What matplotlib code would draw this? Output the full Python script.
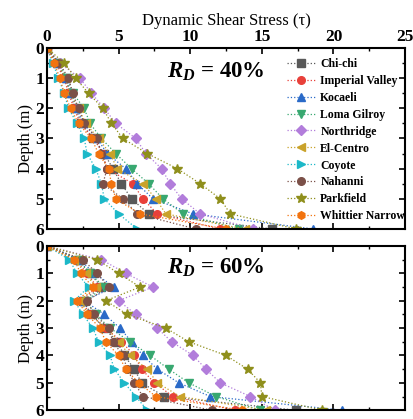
import numpy as np
import matplotlib
matplotlib.use('Agg')
import matplotlib.pyplot as plt
from matplotlib.ticker import MultipleLocator

plt.rcParams['font.family'] = ['Liberation Serif', 'DejaVu Serif']
plt.rcParams['mathtext.fontset'] = 'custom'
plt.rcParams['mathtext.bfit'] = 'Liberation Serif:bold:italic'
plt.rcParams['mathtext.it'] = 'Liberation Serif:italic'
plt.rcParams['mathtext.bf'] = 'Liberation Serif:bold'

depth = [0, 0.5, 1, 1.5, 2, 2.5, 3, 3.5, 4, 4.5, 5, 5.5, 6]

names = ['Chi-chi', 'Imperial Valley', 'Kocaeli', 'Loma Gilroy', 'Northridge',
         'El-Centro', 'Coyote', 'Nahanni', 'Parkfield', 'Whittier Narrow']
colors = ['#595959', '#e8403a', '#2a6ac8', '#38a870', '#b27ddb',
          '#c9a22a', '#1cb8c8', '#7b5048', '#8f8f1c', '#f2730f']
markers = ['s', 'o', '^', 'v', 'D', '<', '>', 'o', '*', 'h']

# RD = 40 %
chichi_40 = [0, 0.7, 1.3, 1.6, 2.0, 2.4, 3.2, 4.0, 4.6, 5.2, 5.9, 7.1, 15.7]
imperial_40 = [0, 0.6, 1.2, 1.5, 1.9, 2.3, 3.3, 3.9, 4.2, 6.0, 6.7, 7.7, 12.1]
kocaeli_40 = [0, 0.7, 1.3, 1.7, 2.1, 2.5, 3.5, 4.2, 5.5, 6.3, 7.4, 10.2, 18.6]
loma_40 = [0, 0.8, 1.4, 1.8, 2.6, 3.0, 3.8, 4.8, 5.9, 7.1, 8.1, 9.5, 13.4]
northridge_40 = [0, 0.9, 2.3, 3.1, 4.0, 4.8, 6.2, 6.9, 8.0, 8.6, 9.4, 10.7, 14.4]
elcentro_40 = [0, 0.7, 1.3, 1.6, 2.2, 2.7, 3.6, 4.4, 4.9, 6.7, 7.6, 8.3, 13.8]
coyote_40 = [0, 0.4, 0.8, 1.2, 1.5, 2.1, 2.6, 2.8, 3.4, 3.8, 4.0, 5.0, 6.3]
nahanni_40 = [0, 0.85, 1.5, 1.8, 2.2, 2.6, 3.5, 3.8, 4.2, 3.9, 5.3, 6.3, 10.4]
parkfield_40 = [0, 1.2, 2.0, 2.9, 3.9, 4.5, 5.3, 7.0, 9.1, 10.7, 12.1, 12.8, 17.4]
whittier_40 = [0, 0.5, 0.9, 1.2, 1.65, 2.2, 3.1, 3.6, 4.3, 4.5, 4.8, 6.5, 12.5]

# RD = 60 %
chichi_60 = [0, 2.2, 3.0, 3.8, 2.5, 3.1, 4.0, 4.9, 5.4, 6.1, 6.6, 8.2, 17.4]
imperial_60 = [0, 2.0, 2.8, 3.5, 2.4, 3.0, 4.1, 5.2, 6.1, 6.6, 7.5, 8.8, 13.1]
kocaeli_60 = [0, 2.3, 3.3, 4.7, 2.6, 4.0, 5.1, 5.9, 6.7, 7.7, 9.2, 11.4, 20.6]
loma_60 = [0, 2.1, 3.0, 4.0, 2.7, 3.4, 4.4, 5.8, 7.2, 8.5, 9.9, 11.8, 14.9]
northridge_60 = [0, 3.8, 5.5, 7.4, 5.0, 6.2, 7.7, 8.7, 10.2, 11.1, 12.1, 14.2, 15.9]
elcentro_60 = [0, 1.9, 2.7, 3.4, 2.3, 2.9, 4.2, 5.0, 5.8, 7.0, 7.7, 9.3, 15.3]
coyote_60 = [0, 1.55, 2.1, 2.9, 1.9, 2.5, 3.2, 3.6, 4.4, 4.7, 5.4, 6.2, 7.0]
nahanni_60 = [0, 2.5, 3.5, 4.3, 2.8, 3.3, 4.3, 4.6, 5.3, 5.6, 6.1, 6.7, 11.5]
parkfield_60 = [0, 3.5, 5.0, 6.5, 4.1, 5.6, 8.3, 9.9, 12.5, 14.0, 14.9, 15.0, 19.2]
whittier_60 = [0, 1.9, 2.35, 3.2, 2.1, 2.8, 3.7, 4.1, 5.0, 5.5, 6.4, 7.6, 13.6]

series_40 = [chichi_40, imperial_40, kocaeli_40, loma_40, northridge_40,
             elcentro_40, coyote_40, nahanni_40, parkfield_40, whittier_40]
series_60 = [chichi_60, imperial_60, kocaeli_60, loma_60, northridge_60,
             elcentro_60, coyote_60, nahanni_60, parkfield_60, whittier_60]

fig = plt.figure(figsize=(4.14, 4.19), dpi=100)
ax1 = fig.add_axes([0.1135, 0.4535, 0.865, 0.432])
ax2 = fig.add_axes([0.1135, 0.021, 0.865, 0.392])

for ax, data, label in [(ax1, series_40, '40%'), (ax2, series_60, '60%')]:
    for vals, nm, c, m in zip(data, names, colors, markers):
        ms = 7.5 if m == '*' else 5.5
        ax.plot(vals, depth, ls=':', lw=0.9, color=c, marker=m, ms=ms,
                mec=c, label=nm)
    ax.set_xlim(0, 25)
    ax.set_ylim(6, 0)
    ax.xaxis.set_major_locator(MultipleLocator(5))
    ax.xaxis.set_minor_locator(MultipleLocator(2.5))
    ax.yaxis.set_major_locator(MultipleLocator(1))
    ax.yaxis.set_minor_locator(MultipleLocator(0.5))
    ax.tick_params(which='both', direction='in', top=True, right=True,
                   bottom=True, left=True, labelbottom=False)
    ax.tick_params(which='major', length=4, width=1.2, labelsize=12.5, pad=2)
    ax.tick_params(which='minor', length=2.5, width=1)
    for lab in ax.get_yticklabels():
        lab.set_fontweight('bold')
    for sp in ax.spines.values():
        sp.set_linewidth(1.5)
    ax.set_ylabel('Depth (m)', fontsize=12, labelpad=1)
    ax.text(11.8, 0.8, r'$\mathbfit{R}_{\mathbfit{D}}$ = ' + label,
            fontsize=16.5, fontweight='bold', ha='center', va='center')

ax1.tick_params(labeltop=True)
for lab in ax1.get_xticklabels():
    lab.set_fontweight('bold')
ax1.xaxis.set_label_position('top')
ax1.set_xlabel('Dynamic Shear Stress (τ)', fontsize=12, labelpad=3)
ax2.tick_params(labeltop=False)

ax1.legend(loc='upper right', bbox_to_anchor=(1.02, 0.985), frameon=False,
           prop={'weight': 'bold', 'size': 8.5}, labelspacing=0.42,
           handlelength=2.4, handletextpad=0.4, borderaxespad=0.2)

fig.savefig('out.png', dpi=100)
